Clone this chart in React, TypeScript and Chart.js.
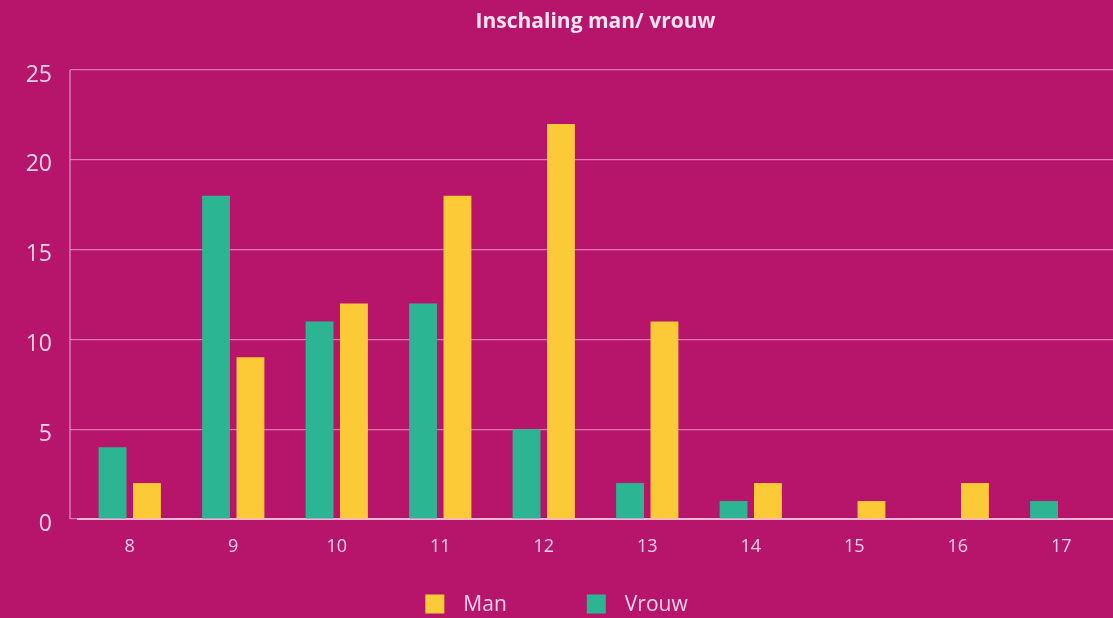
import React, { useEffect, useRef } from "react";
import { Chart, registerables } from "chart.js";

Chart.register(...registerables);

const categories = ["8", "9", "10", "11", "12", "13", "14", "15", "16", "17"];
const vrouwValues = [4, 18, 11, 12, 5, 2, 1, 0, 0, 1];
const manValues = [2, 9, 12, 18, 22, 11, 2, 1, 2, 0];
const yTicks = [0, 5, 10, 15, 20, 25];
const titleText = "Inschaling man/ vrouw";

const BG = "#b7156c";
const GREEN = "#2cb592";
const YELLOW = "#fcc937";
const GRID = "rgba(238,160,205,0.7)";
const TEXT = "#f4d2e6";
const FONT = "'Open Sans', 'Noto Sans', sans-serif";

export default function App() {
  const ref = useRef<HTMLCanvasElement | null>(null);

  useEffect(() => {
    document.body.style.margin = "0";
    document.body.style.background = BG;
    const canvas = ref.current;
    if (!canvas) return;

    const extras = {
      id: "extras",
      beforeDraw(chart: any) {
        const { ctx, width, height } = chart;
        ctx.save();
        ctx.fillStyle = BG;
        ctx.fillRect(0, 0, width, height);
        ctx.restore();
      },
      afterDraw(chart: any) {
        const { ctx, chartArea, width } = chart;
        const yScale = chart.scales.y;
        ctx.save();
        // y axis line
        ctx.strokeStyle = GRID;
        ctx.lineWidth = 1.5;
        ctx.beginPath();
        const ax = chartArea.left - 8;
        ctx.moveTo(ax, yScale.getPixelForValue(25));
        ctx.lineTo(ax, yScale.getPixelForValue(0));
        ctx.stroke();
        // title
        ctx.fillStyle = "#f7e3ef";
        ctx.font = `bold 21px ${FONT}`;
        ctx.textAlign = "center";
        ctx.textBaseline = "middle";
        ctx.fillText(titleText, (chartArea.left + chartArea.right) / 2, 22);
        // legend (reversed order: Man, Vrouw)
        const items = chart.data.datasets
          .map((d: any) => ({ label: d.label, color: d.backgroundColor }))
          .reverse();
        ctx.font = `21px ${FONT}`;
        const box = 19;
        const gapText = 19;
        const gapItem = 80;
        const widths = items.map((it: any) => box + gapText + ctx.measureText(it.label).width);
        const total = widths.reduce((a: number, b: number) => a + b, 0) + gapItem * (items.length - 1);
        let x = width / 2 - total / 2;
        const cy = 604;
        items.forEach((it: any, i: number) => {
          ctx.fillStyle = it.color;
          ctx.fillRect(x, cy - box / 2, box, box);
          ctx.fillStyle = TEXT;
          ctx.textAlign = "left";
          ctx.fillText(it.label, x + box + gapText, cy + 1);
          x += widths[i] + gapItem;
        });
        ctx.restore();
      },
    };

    const chart = new Chart(canvas, {
      type: "bar",
      data: {
        labels: categories,
        datasets: [
          {
            label: "Vrouw",
            data: vrouwValues,
            backgroundColor: GREEN,
            categoryPercentage: 0.665,
            barPercentage: 0.81,
          },
          {
            label: "Man",
            data: manValues,
            backgroundColor: YELLOW,
            categoryPercentage: 0.665,
            barPercentage: 0.81,
          },
        ],
      },
      options: {
        responsive: false,
        animation: false,
        layout: { padding: { top: 70, right: 0, bottom: 0, left: 0 } },
        plugins: {
          legend: { display: false },
          title: { display: false },
          tooltip: { enabled: false },
        },
        scales: {
          x: {
            offset: true,
            grid: { display: false, drawTicks: false },
            border: { display: true, color: "rgba(245,190,222,0.95)", width: 2 },
            ticks: {
              color: TEXT,
              font: { family: FONT, size: 18 },
              padding: 17,
            },
            afterFit(scale: any) {
              scale.height = 99;
            },
          },
          y: {
            min: 0,
            max: 25,
            afterBuildTicks(scale: any) {
              scale.ticks = yTicks.map((v) => ({ value: v }));
            },
            grid: {
              color: GRID,
              lineWidth: 1.2,
              drawTicks: true,
              tickLength: 8,
            },
            border: { display: false },
            ticks: {
              color: TEXT,
              font: { family: FONT, size: 23 },
              padding: 18,
              labelOffset: 5,
            },
            afterFit(scale: any) {
              scale.width = 78;
            },
          },
        },
      },
      plugins: [extras],
    });
    return () => chart.destroy();
  }, []);

  return (
    <div style={{ width: 1113, height: 618, background: BG }}>
      <canvas ref={ref} width={1113} height={618} style={{ display: "block" }} />
    </div>
  );
}
